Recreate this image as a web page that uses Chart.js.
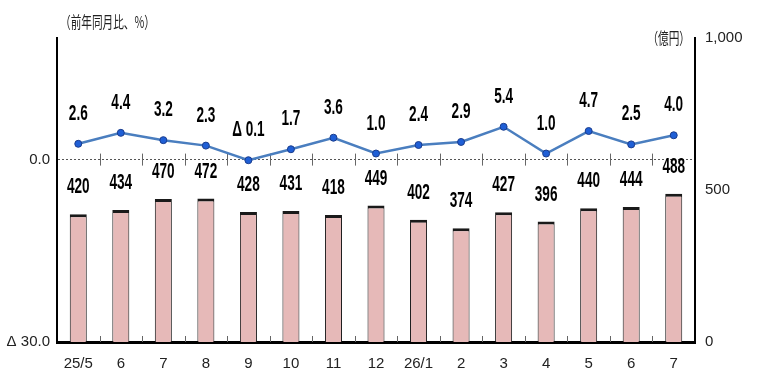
<!DOCTYPE html>
<html>
<head>
<meta charset="utf-8">
<script src="https://cdn.jsdelivr.net/npm/chart.js@4"></script>
<style>
  html, body { margin: 0; padding: 0; background: #fff; }
  #wrap { width: 760px; height: 376px; }
</style>
</head>
<body>
<div id="wrap"><canvas id="chart" width="760" height="376"></canvas></div>
<script>
const months = ["25/5", "6", "7", "8", "9", "10", "11", "12", "26/1", "2", "3", "4", "5", "6", "7"];
const sales = [420, 434, 470, 472, 428, 431, 418, 449, 402, 374, 427, 396, 440, 444, 488];
const yoy = [2.6, 4.4, 3.2, 2.3, -0.1, 1.7, 3.6, 1.0, 2.4, 2.9, 5.4, 1.0, 4.7, 2.5, 4.0];
const leftTicks = [-30, 0];
const rightTicks = [0, 500, 1000];

const NARROW = '"Liberation Sans Narrow", "Arial Narrow", "Liberation Sans", sans-serif';

function fmtPct(v) {
  return v < 0 ? "Δ " + Math.abs(v).toFixed(1) : v.toFixed(1);
}

// condensed, stretched text like the original's tall figures
function tallText(ctx, text, x, y, sx, sy) {
  ctx.save();
  ctx.translate(x, y);
  ctx.scale(sx, sy);
  ctx.fillText(text, 0, 0);
  ctx.restore();
}

const extras = {
  id: "extras",
  beforeDatasetsDraw(chart) {
    const ctx = chart.ctx;
    const x = chart.scales.x;
    const yL = chart.scales.y;
    const yR = chart.scales.y1;
    const y0 = yL.getPixelForValue(0);
    const yb = yR.getPixelForValue(0);
    ctx.save();
    ctx.strokeStyle = "#666";
    ctx.lineWidth = 1;
    for (let i = 0; i < months.length - 1; i++) {
      const mx = Math.round((x.getPixelForValue(i) + x.getPixelForValue(i + 1)) / 2) + 0.5;
      ctx.beginPath();
      ctx.moveTo(mx, y0 - 6);
      ctx.lineTo(mx, y0 + 6);
      ctx.moveTo(mx, yb - 6);
      ctx.lineTo(mx, yb);
      ctx.stroke();
    }
    ctx.restore();
  },
  afterDraw(chart) {
    const ctx = chart.ctx;
    ctx.save();
    ctx.fillStyle = "#000";
    ctx.textAlign = "center";
    ctx.textBaseline = "middle";
    ctx.font = "bold 17px " + NARROW;
    chart.getDatasetMeta(0).data.forEach((el, i) => {
      tallText(ctx, String(sales[i]), el.x, el.y - 27, 0.8, 1.3);
    });
    chart.getDatasetMeta(1).data.forEach((el, i) => {
      tallText(ctx, fmtPct(yoy[i]), el.x, el.y - 30, 0.8, 1.3);
    });
    // axis unit captions
    ctx.fillStyle = "#222";
    ctx.font = '14px "Noto Sans CJK JP", sans-serif';
    ctx.textAlign = "left";
    tallText(ctx, "（前年同月比、%）", 60, 22, 0.76, 1.15);
    ctx.textAlign = "right";
    tallText(ctx, "（億円）", 690, 38, 0.76, 1.15);
    ctx.restore();
  }
};

new Chart(document.getElementById("chart").getContext("2d"), {
  type: "bar",
  data: {
    labels: months,
    datasets: [
      {
        type: "bar",
        label: "売上高",
        data: sales,
        yAxisID: "y1",
        backgroundColor: "#e6b9b8",
        borderColor: "#1a1a1a",
        borderWidth: { top: 3, left: 1, right: 1, bottom: 0 },
        borderSkipped: false,
        categoryPercentage: 1,
        barPercentage: 0.4,
        order: 2
      },
      {
        type: "line",
        label: "前年同月比",
        data: yoy,
        yAxisID: "y",
        borderColor: "#4a7ebf",
        borderWidth: 2.5,
        pointRadius: 3.5,
        pointBackgroundColor: "#1f5fd6",
        pointBorderColor: "#1a3c8c",
        pointBorderWidth: 1,
        tension: 0,
        order: 1
      }
    ]
  },
  options: {
    responsive: false,
    animation: false,
    layout: { padding: { top: 38, left: 0, right: 0, bottom: 0 } },
    plugins: {
      legend: { display: false },
      tooltip: { enabled: false }
    },
    scales: {
      x: {
        offset: true,
        grid: { display: false },
        border: { color: "#000", width: 3 },
        ticks: {
          color: "#222",
          font: { family: NARROW, size: 15 },
          padding: 5,
          maxRotation: 0
        },
        afterFit: (s) => { s.height = 34; }
      },
      y: {
        position: "left",
        min: -30,
        max: 20,
        afterBuildTicks: (s) => { s.ticks = leftTicks.map(v => ({ value: v })); },
        grid: {
          drawTicks: false,
          color: (c) => (c.tick && c.tick.value === 0 ? "#555" : "rgba(0,0,0,0)"),
          lineWidth: 1
        },
        border: { color: "#000", width: 2, dash: [2, 2] },
        ticks: {
          color: "#222",
          font: { family: NARROW, size: 15 },
          padding: 7,
          callback: (v) => fmtPct(v)
        },
        afterFit: (s) => { s.width = 57; }
      },
      y1: {
        position: "right",
        min: 0,
        max: 1000,
        afterBuildTicks: (s) => { s.ticks = rightTicks.map(v => ({ value: v })); },
        grid: { display: false, drawTicks: false },
        border: { color: "#000", width: 2 },
        ticks: {
          color: "#222",
          font: { family: NARROW, size: 15 },
          padding: 10,
          callback: (v) => v.toLocaleString("en-US")
        },
        afterFit: (s) => { s.width = 65; }
      }
    }
  },
  plugins: [extras]
});
</script>
</body>
</html>
